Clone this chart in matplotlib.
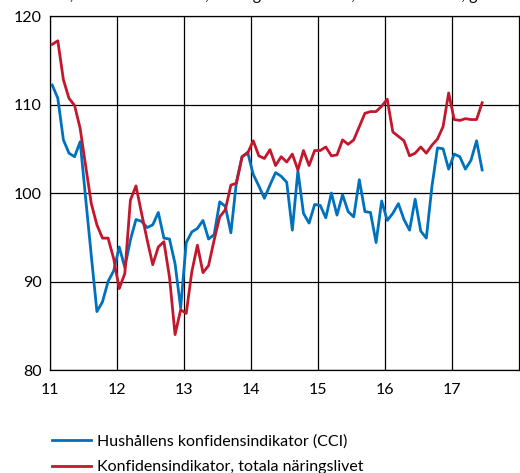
import matplotlib
matplotlib.use("Agg")
import matplotlib.pyplot as plt
import numpy as np

plt.rcParams['font.family'] = ['Lato', 'DejaVu Sans']

# Monthly data, Jan 2011 - Jun 2017
cci = [112.2, 110.7, 106.0, 104.5, 104.1, 105.8, 99.3, 92.9, 86.6, 87.7, 90.0, 91.2,
       93.9, 91.6, 94.7, 97.0, 96.8, 96.1, 96.4, 97.8, 94.9, 94.8, 92.0, 87.0,
       94.4, 95.6, 96.0, 96.9, 94.8, 95.3, 99.0, 98.5, 95.5, 101.3, 104.1, 104.6,
       102.1, 100.8, 99.4, 100.9, 102.3, 101.9, 101.2, 95.8, 102.5, 97.7, 96.6, 98.7,
       98.6, 97.2, 100.0, 97.5, 99.8, 97.9, 97.3, 101.5, 97.9, 97.8, 94.4, 99.1,
       96.9, 97.7, 98.8, 97.0, 95.8, 99.3, 95.7, 94.9, 100.7, 105.1, 105.0, 102.7,
       104.4, 104.1, 102.7, 103.7, 105.9, 102.6]
business = [116.8, 117.2, 112.8, 110.7, 109.9, 107.3, 103.0, 98.8, 96.4, 94.9, 94.9, 92.6,
            89.2, 90.9, 99.2, 100.8, 97.7, 94.7, 91.9, 93.9, 94.5, 90.5, 84.0, 86.8,
            86.4, 91.1, 94.1, 91.0, 91.8, 94.7, 97.3, 98.1, 100.9, 101.1, 104.1, 104.5,
            105.9, 104.2, 103.9, 104.9, 103.1, 104.1, 103.5, 104.4, 102.6, 104.8, 103.1, 104.8,
            104.8, 105.2, 104.2, 104.3, 106.0, 105.5, 106.0, 107.5, 109.0, 109.2, 109.2, 109.8,
            110.6, 106.9, 106.4, 105.9, 104.2, 104.5, 105.2, 104.5, 105.4, 106.1, 107.5, 111.3,
            108.3, 108.2, 108.4, 108.3, 108.3, 110.2]
year_ticks = [11, 12, 13, 14, 15, 16, 17]
year_labels = ['11', '12', '13', '14', '15', '16', '17']
y_ticks = [80, 90, 100, 110, 120]
labels = ['Hushållens konfidensindikator (CCI)', 'Konfidensindikator, totala näringslivet']

x = 11 + (np.arange(len(cci)) + 0.4) / 12.0

fig = plt.figure(figsize=(5.20, 4.73), dpi=100)
ax = fig.add_axes([50/520, 1 - 370/473, 469/520, 354/473])

l1, = ax.plot(x, cci, color='#0071BC', lw=2.0, label=labels[0], zorder=3)
l2, = ax.plot(x, business, color='#C3172E', lw=2.0, label=labels[1], zorder=3)

ax.set_xlim(11, 18)
ax.set_ylim(80, 120)
ax.set_xticks(year_ticks)
ax.set_xticklabels(year_labels)
ax.set_yticks(y_ticks)
ax.grid(True, color='black', lw=0.9, zorder=1)
ax.tick_params(length=0, labelsize=11.5, colors='black', pad=9)
ax.tick_params(axis='y', pad=6)
for s in ax.spines.values():
    s.set_color('black')
    s.set_linewidth(0.9)

fig.legend(handles=[l1, l2], labels=labels, loc='upper left',
           bbox_to_anchor=(46/520, 1 - 428/473), frameon=False,
           fontsize=11.5, handlelength=2.4, handletextpad=0.4,
           labelspacing=0.7, borderaxespad=0)

fig.text(0.06, 1.0 + 0.5/473, 'Index, medelvärde = 100, säsongrensade data, månadsvärden, glidande',
         fontsize=11.5, va='baseline', ha='left')

fig.savefig('out.png', dpi=100)
